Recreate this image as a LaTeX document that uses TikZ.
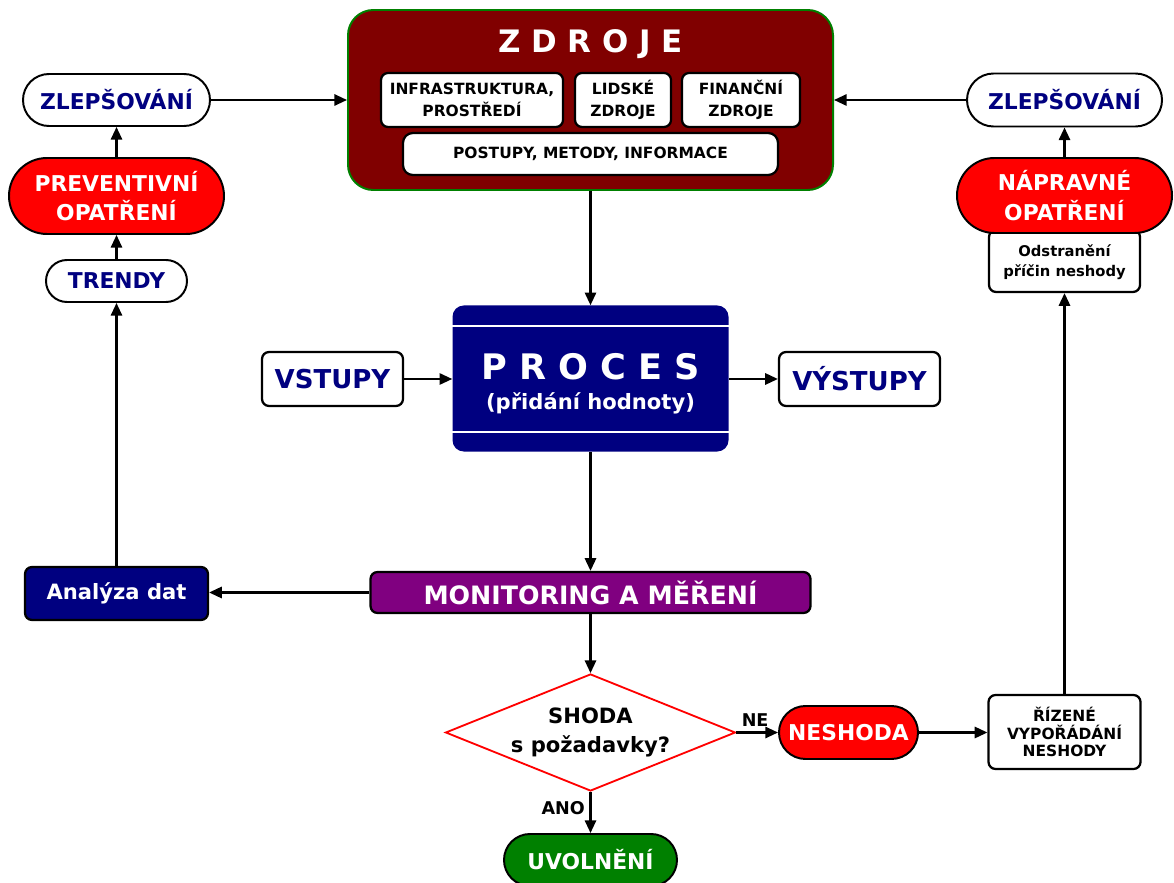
\documentclass[tikz,border=0pt]{standalone}
\usepackage{fontspec}
\setmainfont{DejaVu Sans}
\usetikzlibrary{shapes.misc,shapes.geometric,arrows.meta}
\definecolor{navy}{RGB}{0,0,128}
\definecolor{maroon}{RGB}{128,0,0}
\definecolor{leaf}{RGB}{0,128,0}
\definecolor{plum}{RGB}{128,0,128}
\tikzstyle{pill}=[rounded rectangle,draw=black,line width=1.4pt,inner sep=0pt,align=center]
\tikzstyle{card}=[rectangle,rounded corners=5pt,draw=black,line width=1.6pt,fill=white,inner sep=0pt,align=center]
\tikzstyle{link}=[->,line width=1.5pt]
\tikzstyle{big}=[font={\bfseries\fontsize{15.5}{21}\selectfont}]
\tikzstyle{small}=[font={\bfseries\fontsize{11}{15.4}\selectfont}]

\begin{document}
\begin{tikzpicture}[x=0.25mm,y=-0.25mm,>={Triangle[length=9pt,width=8pt]}]
\useasboundingbox (0,0) rectangle (1174,883);

% zdroje
\node[draw=leaf,fill=maroon,line width=1.4pt,rounded corners=18pt,minimum width=12.125cm,minimum height=4.5cm] (zdroje) at (590.5,100) {};
\node[text=white,font={\bfseries\fontsize{22}{26}\selectfont}] (zdrojeTitle) at (590.5,44) {Z D R O J E};
\node[card,small,minimum width=4.55cm,minimum height=1.35cm] (infra) at (472,100) {INFRASTRUKTURA,\\PROSTŘEDÍ};
\node[card,small,minimum width=2.4cm,minimum height=1.35cm] (lidske) at (623,100) {LIDSKÉ\\ZDROJE};
\node[card,small,minimum width=2.95cm,minimum height=1.35cm] (financni) at (741,100) {FINANČNÍ\\ZDROJE};
\node[card,small,rounded corners=7pt,minimum width=9.375cm,minimum height=1.05cm] (postupy) at (590.5,154) {POSTUPY, METODY, INFORMACE};

% proces
\node[fill=navy,rounded corners=8pt,minimum width=6.9cm,minimum height=3.65cm] (proces) at (590.5,378.5) {};
\draw[white,line width=1.5pt] (proces.west |- 0,326) -- (proces.east |- 0,326);
\draw[white,line width=1.5pt] (proces.west |- 0,432) -- (proces.east |- 0,432);
\node[text=white,font={\bfseries\fontsize{25}{30}\selectfont}] (procesTitle) at (590.5,367) {P R O C E S};
\node[text=white,font={\bfseries\fontsize{15}{18}\selectfont}] (procesSub) at (590.5,403) {(přidání hodnoty)};
\node[card,text=navy,font={\bfseries\fontsize{18.5}{22}\selectfont},minimum width=3.525cm,minimum height=1.35cm] (vstupy) at (332.5,379) {VSTUPY};
\node[card,text=navy,font={\bfseries\fontsize{18.5}{22}\selectfont},minimum width=4.025cm,minimum height=1.35cm] (vystupy) at (859.5,379) {VÝSTUPY};

% left column
\node[pill,big,fill=white,text=navy,minimum width=4.675cm,minimum height=1.3cm] (zlepL) at (116.5,100) {ZLEPŠOVÁNÍ};
\node[pill,big,fill=red,text=white,minimum width=5.375cm,minimum height=1.9cm] (prevence) at (116.5,196) {PREVENTIVNÍ\\OPATŘENÍ};
\node[pill,big,fill=white,text=navy,minimum width=3.525cm,minimum height=1.05cm] (trendy) at (116.5,281) {TRENDY};
\node[card,fill=navy,text=white,font={\bfseries\fontsize{15}{18}\selectfont},minimum width=4.575cm,minimum height=1.325cm] (analyza) at (116.5,593.5) {Analýza dat};

% monitoring, shoda
\node[card,fill=plum,text=white,font={\bfseries\fontsize{18}{22}\selectfont},minimum width=11cm,minimum height=1.025cm] (monitor) at (590.5,592.5) {MONITORING A MĚŘENÍ};
\node[diamond,draw=red,line width=1.3pt,fill=white,aspect=2.5,inner sep=0pt,minimum width=7.25cm,minimum height=2.925cm,align=center,font={\bfseries\fontsize{15}{21}\selectfont}] (shoda) at (590.5,732.5) {SHODA\\s požadavky?};
\node[pill,big,fill=red,text=white,minimum width=3.475cm,minimum height=1.325cm] (neshoda) at (848.5,732.5) {NESHODA};
\node[pill,big,fill=leaf,text=white,minimum width=4.325cm,minimum height=1.3cm] (uvolneni) at (590.5,860) {UVOLNĚNÍ};
\node[card,small,font={\bfseries\fontsize{11}{12.6}\selectfont},minimum width=3.8cm,minimum height=1.85cm] (rizene) at (1064.5,732) {ŘÍZENÉ\\VYPOŘÁDÁNÍ\\NESHODY};

% right column
\node[card,font={\bfseries\fontsize{10.5}{14.2}\selectfont},minimum width=3.775cm,minimum height=1.55cm,text depth=-22pt] (odstraneni) at (1064.5,261) {Odstranění\\příčin neshody};
\node[pill,big,fill=red,text=white,minimum width=5.375cm,minimum height=1.875cm] (naprava) at (1064.5,195.5) {NÁPRAVNÉ\\OPATŘENÍ};
\node[pill,big,fill=white,text=navy,minimum width=4.875cm,minimum height=1.325cm] (zlepR) at (1064.5,100) {ZLEPŠOVÁNÍ};

\draw[link] (zlepL.east) -- (zlepL.east -| zdroje.west);
\draw[link] (zlepR.west) -- (zlepR.west -| zdroje.east);
\draw[link] (prevence.north) -- (zlepL.south);
\draw[link] (trendy.north) -- (prevence.south);
\draw[link] (analyza.north) -- (trendy.south);
\draw[link] (monitor.west) -- (monitor.west -| analyza.east);
\draw[link] (zdroje.south) -- (proces.north);
\draw[link] (vstupy.east) -- (vstupy.east -| proces.west);
\draw[link] (vystupy.west -| proces.east) -- (vystupy.west);
\draw[link] (proces.south) -- (monitor.north);
\draw[link] (monitor.south) -- (shoda.north);
\draw[link] (shoda.east) -- node[above,pos=0.45,font={\bfseries\fontsize{12.5}{14}\selectfont}] {NE} (neshoda.west);
\draw[link] (shoda.south) -- node[left,pos=0.4,font={\bfseries\fontsize{12.5}{14}\selectfont}] {ANO} (uvolneni.north);
\draw[link] (neshoda.east) -- (neshoda.east -| rizene.west);
\draw[link] (rizene.north) -- (odstraneni.south);
\draw[link] (naprava.north) -- (zlepR.south);

\end{tikzpicture}
\end{document}
